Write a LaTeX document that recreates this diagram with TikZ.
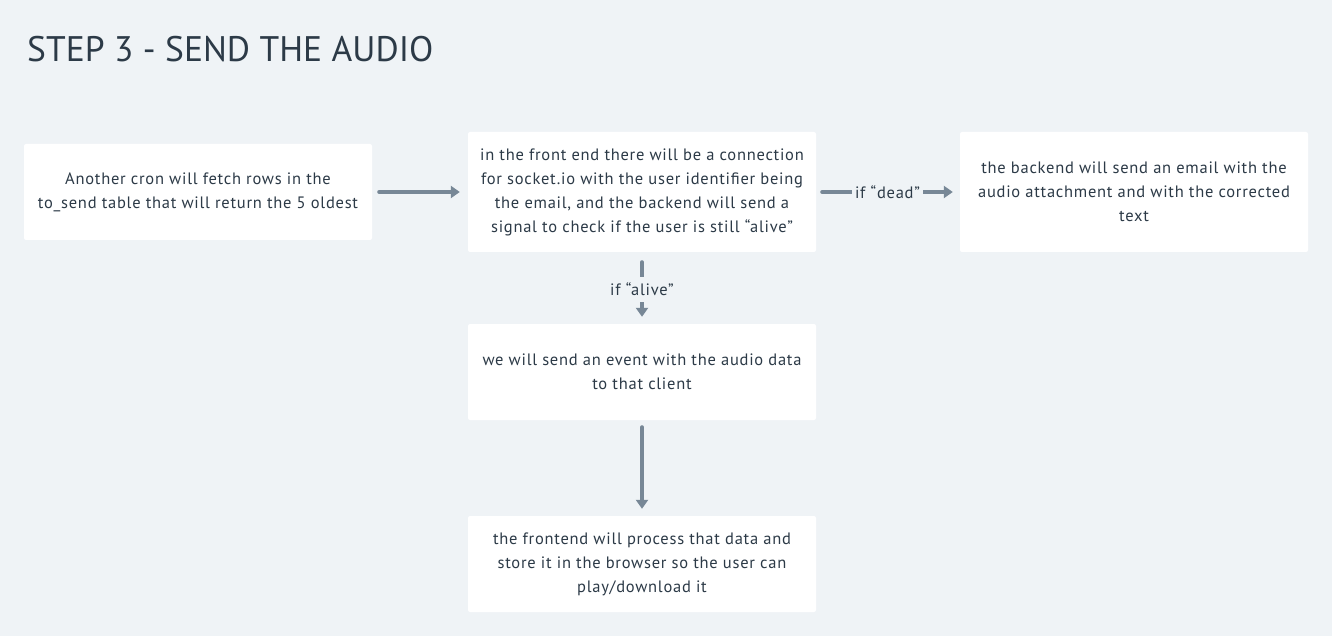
\documentclass[tikz,border=0pt]{standalone}
\usepackage{fontspec}
\setmainfont{PT Sans}
\newfontfamily\bodyfont[LetterSpace=4.5]{PT Sans}
\usetikzlibrary{arrows.meta,positioning}
\definecolor{bg}{HTML}{EFF3F6}
\definecolor{ink}{HTML}{2C3A47}
\definecolor{conn}{HTML}{778796}
\tikzset{
  box/.style={fill=white, rounded corners=2pt, minimum width=348pt, align=center,
    text=ink, font=\bodyfont\fontsize{16.5}{24}\selectfont, inner sep=0pt},
  arr/.style={draw=conn, line width=4pt, line cap=round,
    -{Triangle[length=9pt,width=12pt]}},
  lbl/.style={fill=bg, text=ink, font=\bodyfont\fontsize{16.5}{24}\selectfont, inner xsep=3pt, inner ysep=2pt},
}
\begin{document}
\begin{tikzpicture}[x=1pt,y=-1pt]
\useasboundingbox[fill=bg] (0,0) rectangle (1332,636);
\node[anchor=base west, text=ink, font=\fontsize{35.5}{40}\selectfont, inner sep=0pt] (title) at (27,62) {STEP 3 - SEND THE AUDIO};
\node[box, minimum height=96pt] (A) at (198,192) {Another cron will fetch rows in the\\to\_send table that will return the 5 oldest};
\node[box, minimum height=120pt] (B) at (642,192) {in the front end there will be a connection\\for socket.io with the user identifier being\\the email, and the backend will send a\\signal to check if the user is still “alive”};
\node[box, minimum height=120pt] (C) at (1134,192) {the backend will send an email with the\\audio attachment and with the corrected\\text};
\node[box, minimum height=96pt] (D) at (642,372) {we will send an event with the audio data\\to that client};
\node[box, minimum height=96pt] (E) at (642,564) {the frontend will process that data and\\store it in the browser so the user can\\play/download it};
\draw[arr] ([xshift=7pt]A.east) -- ([xshift=-8pt]B.west);
\draw[arr] ([xshift=6pt]B.east) -- node[lbl, inner ysep=0pt] (ld) {if “dead”} ([xshift=-7pt]C.west);
\draw[arr] ([yshift=-10pt]B.south) -- node[lbl, inner ysep=6pt] (la) {if “alive”} ([yshift=7pt]D.north);
\draw[arr] ([yshift=-7pt]D.south) -- ([yshift=7pt]E.north);
\end{tikzpicture}
\end{document}
